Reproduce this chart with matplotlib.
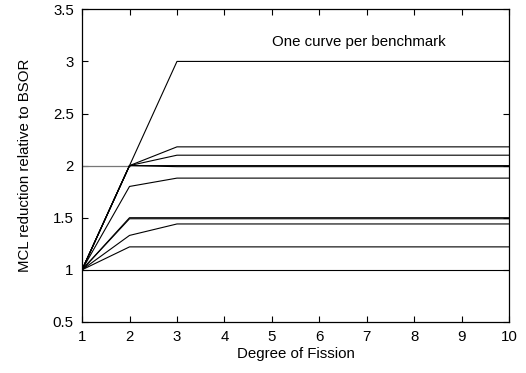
import matplotlib
matplotlib.use("Agg")
import matplotlib.pyplot as plt

# degree of fission on x axis
degrees = list(range(1, 11))

# MCL reduction per benchmark: value at degree 1, 2, 3 (flat after 3)
curve_starts = [
    [1.0, 2.0, 3.0],
    [1.0, 2.0, 2.18],
    [1.0, 2.0, 2.10],
    [1.0, 2.0, 2.0],
    [1.0, 2.0, 1.99],
    [1.0, 1.80, 1.88],
    [1.0, 1.50, 1.50],
    [1.0, 1.49, 1.49],
    [1.0, 1.33, 1.44],
    [1.0, 1.22, 1.22],
    [1.0, 1.0, 1.0],
]
flat_curve = [2.0, 2.0]  # the lighter line at 2 between degree 1 and 2

plt.rcParams['font.family'] = ['Liberation Sans', 'DejaVu Sans']

fig = plt.figure(figsize=(5.26, 3.73), dpi=100)
ax = fig.add_axes([0.156, 0.137, 0.812, 0.838])

ax.plot(degrees[:2], flat_curve, color='#777777', linewidth=0.9)
for c in curve_starts:
    vals = c + [c[-1]] * (len(degrees) - len(c))
    ax.plot(degrees, vals, color='black', linewidth=0.8)

ax.text(5.0, 3.19, "One curve per benchmark", fontsize=10.8, va='center', ha='left')

ax.set_xlim(1, 10)
ax.set_ylim(0.5, 3.5)
ax.set_xticks(degrees)
ax.set_yticks([0.5, 1, 1.5, 2, 2.5, 3, 3.5])
ax.set_yticklabels(['0.5', '1', '1.5', '2', '2.5', '3', '3.5'])
ax.tick_params(direction='in', top=True, right=True, length=4, width=0.8,
               labelsize=10.8, pad=6)
for s in ax.spines.values():
    s.set_linewidth(0.9)

ax.set_xlabel("Degree of Fission", fontsize=10.8, labelpad=2)
ax.set_ylabel("MCL reduction relative to BSOR", fontsize=10.8, labelpad=15)

fig.savefig("out.png", dpi=100)
